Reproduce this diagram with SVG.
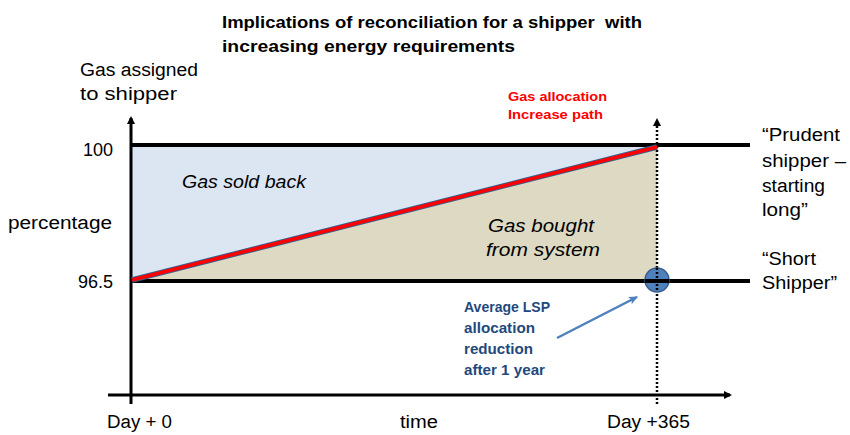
<svg xmlns="http://www.w3.org/2000/svg" width="850" height="435" viewBox="0 0 850 435">
<style>
text{font-family:"Liberation Sans","DejaVu Sans",sans-serif;fill:#000}
.title{font-weight:bold;font-size:17px;white-space:pre}
.lbl{font-size:18px}
.it{font-style:italic;font-size:19px}
.red{fill:#ff0000;font-weight:bold;font-size:13.5px}
.blu{fill:#1f497d;font-weight:bold;font-size:14px}
.thick{stroke:#000;stroke-width:4;fill:none}
.axis{stroke:#000;stroke-width:3;fill:none}
</style>
<defs>
<marker id="ah" markerWidth="8" markerHeight="8" refX="6" refY="4" orient="auto" markerUnits="userSpaceOnUse">
<path d="M0,0 L8,4 L0,8 z" fill="#000"/>
</marker>
<marker id="ahb" markerWidth="10" markerHeight="10" refX="8" refY="5" orient="auto" markerUnits="userSpaceOnUse">
<path d="M0,1 L9,5 L0,9 L2,5 z" fill="#4f81bd"/>
</marker>
</defs>
<rect width="850" height="435" fill="#fff"/>

<g id="regions">
<polygon id="sold" points="131,145 657,145 131,281" fill="#dce6f2"/>
<polygon id="bought" points="131,281 657,146 657,281" fill="#ddd9c3"/>
</g>

<g id="connectors">
<line class="thick" x1="131" y1="145" x2="750" y2="145"/>
<line class="thick" x1="131" y1="281" x2="750" y2="281"/>
<line class="axis" x1="131" y1="404" x2="131" y2="118" marker-end="url(#ah)"/>
<line class="axis" x1="108" y1="395" x2="730" y2="395" marker-end="url(#ah)"/>
<line x1="657" y1="404" x2="657" y2="120" stroke="#000" stroke-width="2.5" stroke-dasharray="2,2" marker-end="url(#ah)"/>
<line x1="132" y1="280" x2="657" y2="147" stroke="#385d8a" stroke-width="5.5"/>
<line x1="132" y1="280" x2="657" y2="147" stroke="#ff0000" stroke-width="3.5"/>
<line x1="557" y1="338" x2="637" y2="297" stroke="#4f81bd" stroke-width="2.5" marker-end="url(#ahb)"/>
</g>

<g id="lsp-point">
<circle cx="657" cy="280" r="12" fill="#4f81bd" stroke="#385d8a" stroke-width="1.5"/>
<line x1="645" y1="281" x2="669" y2="281" stroke="#000" stroke-width="4"/>
<line x1="657" y1="268" x2="657" y2="292" stroke="#000" stroke-width="2.5" stroke-dasharray="2,2"/>
</g>

<g id="title">
<text class="title" x="222" y="28" textLength="420" lengthAdjust="spacingAndGlyphs" xml:space="preserve">Implications of reconciliation for a shipper  with</text>
<text class="title" x="222" y="52" textLength="293" lengthAdjust="spacingAndGlyphs">increasing energy requirements</text>
</g>

<g id="y-axis-labels">
<text class="lbl" x="80" y="76" textLength="118" lengthAdjust="spacingAndGlyphs">Gas assigned</text>
<text class="lbl" x="80" y="100" textLength="97" lengthAdjust="spacingAndGlyphs">to shipper</text>
<text class="lbl" x="113" y="156" text-anchor="end">100</text>
<text class="lbl" x="8" y="229" textLength="104" lengthAdjust="spacingAndGlyphs">percentage</text>
<text class="lbl" x="113" y="288" text-anchor="end">96.5</text>
</g>

<g id="x-axis-labels">
<text class="lbl" x="107" y="428" textLength="65" lengthAdjust="spacingAndGlyphs">Day + 0</text>
<text class="lbl" x="400" y="428" textLength="38" lengthAdjust="spacingAndGlyphs">time</text>
<text class="lbl" x="607" y="428" textLength="83" lengthAdjust="spacingAndGlyphs">Day +365</text>
</g>

<g id="sold-label">
<text class="it" x="182" y="188" textLength="124" lengthAdjust="spacingAndGlyphs">Gas sold back</text>
</g>

<g id="bought-label">
<text class="it" x="488" y="232" textLength="106" lengthAdjust="spacingAndGlyphs">Gas bought</text>
<text class="it" x="486" y="256" textLength="114" lengthAdjust="spacingAndGlyphs">from system</text>
</g>

<g id="path-label">
<text class="red" x="508" y="101" textLength="99" lengthAdjust="spacingAndGlyphs">Gas allocation</text>
<text class="red" x="508" y="119" textLength="95" lengthAdjust="spacingAndGlyphs">Increase path</text>
</g>

<g id="lsp-label">
<text class="blu" x="464" y="312" textLength="86" lengthAdjust="spacingAndGlyphs">Average LSP</text>
<text class="blu" x="464" y="333" textLength="71" lengthAdjust="spacingAndGlyphs">allocation</text>
<text class="blu" x="464" y="354" textLength="69" lengthAdjust="spacingAndGlyphs">reduction</text>
<text class="blu" x="464" y="375" textLength="81" lengthAdjust="spacingAndGlyphs">after 1 year</text>
</g>

<g id="prudent-label">
<text class="lbl" x="762" y="141" textLength="78" lengthAdjust="spacingAndGlyphs">“Prudent</text>
<text class="lbl" x="762" y="167" textLength="84" lengthAdjust="spacingAndGlyphs">shipper –</text>
<text class="lbl" x="762" y="192" textLength="63" lengthAdjust="spacingAndGlyphs">starting</text>
<text class="lbl" x="762" y="216" textLength="46" lengthAdjust="spacingAndGlyphs">long”</text>
</g>

<g id="short-label">
<text class="lbl" x="762" y="265" textLength="54" lengthAdjust="spacingAndGlyphs">“Short</text>
<text class="lbl" x="762" y="289" textLength="75" lengthAdjust="spacingAndGlyphs">Shipper”</text>
</g>
</svg>
